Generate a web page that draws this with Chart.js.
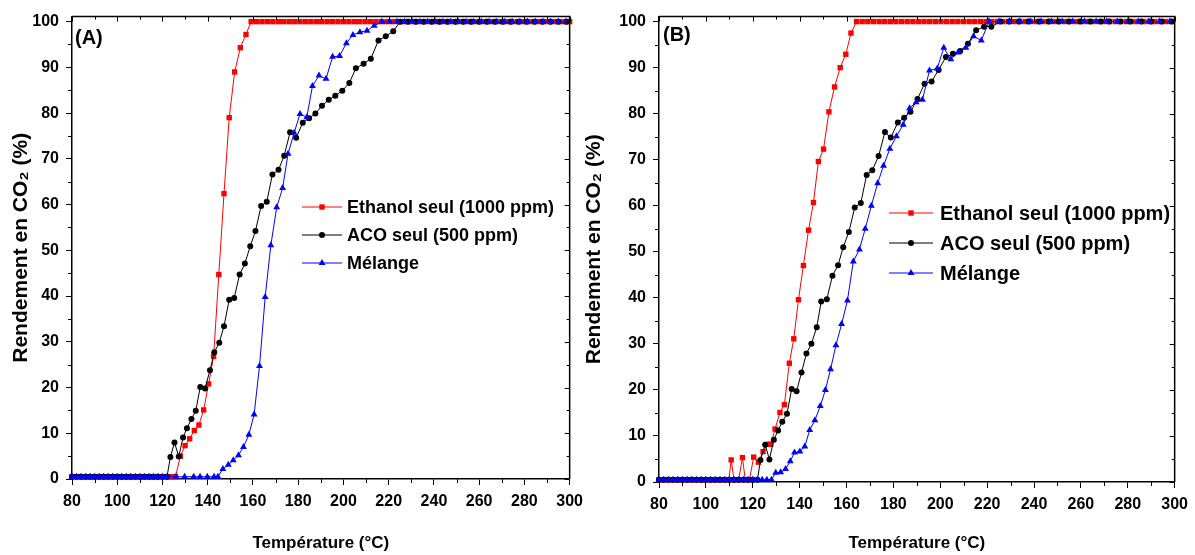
<!DOCTYPE html>
<html><head><meta charset="utf-8">
<script src="https://cdn.jsdelivr.net/npm/chart.js@4.4.1/dist/chart.umd.min.js"></script>
<style>
html,body{margin:0;padding:0;background:#fff;width:1195px;height:555px;overflow:hidden;position:relative;}
canvas{position:absolute;top:0;}
#ca{left:0;}
#cb{left:580px;}
</style></head><body>
<canvas id="ca" width="590" height="555"></canvas>
<canvas id="cb" width="615" height="555"></canvas>
<script>
// ---------- DATA ----------
const xTickValues = [80,100,120,140,160,180,200,220,240,260,280,300];
const xMinorValues = [90,110,130,150,170,190,210,230,250,270,290];
const yTickValues = [0,10,20,30,40,50,60,70,80,90,100];
const yMinorValues = [5,15,25,35,45,55,65,75,85,95];
const seriesNames = ['Ethanol seul (1000 ppm)', 'ACO seul (500 ppm)', 'Mélange'];
const panelLabels = ['(A)', '(B)'];
const xTitle = 'Température (°C)';
const yTitle = 'Rendement en CO₂ (%)';

// Panel A : [temperature °C, CO2 yield %]
const A_ethanol = [[80,0.5],[82,0.5],[84,0.5],[86,0.5],[88,0.5],[90,0.5],[92,0.5],[94,0.5],[96,0.5],[98,0.5],[100,0.5],[102,0.5],[104,0.5],[106,0.5],[108,0.5],[110,0.5],[112,0.5],[114,0.5],[116,0.5],[118,0.5],[120,0.5],[122,0.5],[124,0.5],[125.8,0.5],
[127.9,5.0],[130.0,7.3],[132.0,8.8],[134.1,10.6],[136.1,11.8],[138.2,15.1],[140.4,20.8],[142.6,26.8],[144.9,44.7],[147.2,62.4],[149.5,79.0],[151.9,89.0],[154.4,94.3],[156.9,97.2],[159.2,100],
[161.6,100],[164.0,100],[166.4,100],[168.8,100],[171.2,100],[173.6,100],[176.0,100],[178.4,100],[180.8,100],[183.2,100],[185.6,100],[188.0,100],[190.4,100],[192.8,100],[195.2,100],[197.6,100],[200.0,100],[202.4,100],[204.8,100],[207.2,100],[209.6,100],[212.0,100],[214.4,100],[216.8,100],[219.2,100],[221.6,100],[224.0,100],[226.4,100],[228.8,100],[231.2,100],[233.6,100],[236.0,100],[238.4,100],[240.8,100],[243.2,100],[245.6,100],[248.0,100],[250.4,100],[252.8,100],[255.2,100],[257.6,100],[260.0,100],[262.4,100],[264.8,100],[267.2,100],[269.6,100],[272.0,100],[274.4,100],[276.8,100],[279.2,100],[281.6,100],[284.0,100],[286.4,100],[288.8,100],[291.2,100],[293.6,100],[296.0,100],[298.4,100],[300,100]];

const A_aco = [[80,0.5],[82,0.5],[84,0.5],[86,0.5],[88,0.5],[90,0.5],[92,0.5],[94,0.5],[96,0.5],[98,0.5],[100,0.5],[102,0.5],[104,0.5],[106,0.5],[108,0.5],[110,0.5],[112,0.5],[114,0.5],[116,0.5],[118,0.5],[120,0.5],[122,0.5],
[123.5,4.8],[125.3,8.0],[127.2,4.9],[129.1,9.1],[130.8,11.1],[132.8,13.1],[134.7,14.9],[136.7,20.1],[138.8,19.8],[141.0,23.8],[142.9,27.7],[145.1,29.8],[147.2,33.4],[149.5,39.2],[151.7,39.6],[154.1,44.7],[156.4,47.1],[158.8,50.9],[161.1,54.2],[163.6,59.7],[166.1,60.6],[168.6,66.6],[171.3,67.6],[173.8,70.7],[176.4,75.8],[179.1,74.6],[182.0,77.9],[184.8,78.9],[187.6,79.9],[190.5,81.6],[193.5,82.9],[196.4,83.8],[199.5,84.9],[202.6,86.6],[205.5,89.8],[208.9,90.8],[212.1,91.9],[215.5,95.9],[218.7,96.8],[222.0,97.9],[225.1,100],
[228.5,100],[232,100],[235.5,100],[239,100],[242.5,100],[246,100],[249.5,100],[253,100],[256.5,100],[260,100],[263.5,100],[267,100],[270.5,100],[274,100],[277.5,100],[281,100],[284.5,100],[288,100],[291.5,100],[295,100],[298.5,100]];

const A_melange = [[80,0.5],[82,0.5],[84,0.5],[86,0.5],[88,0.5],[90,0.5],[92,0.5],[94,0.5],[96,0.5],[98,0.5],[100,0.5],[102,0.5],[104,0.5],[106,0.5],[108,0.5],[110,0.5],[112,0.5],[114,0.5],[116,0.5],[118,0.5],[120,0.5],[122,0.5],[125.9,0.5],[129.8,0.5],[133.8,0.5],[136.6,0.5],[139.8,0.5],[142.8,0.5],[144.5,0.5],
[146.7,2.2],[149.1,3.1],[151.3,4.1],[153.6,5.2],[155.8,7.0],[158.2,9.7],[160.5,14.1],[162.9,24.7],[165.4,39.8],[167.9,51.1],[170.5,59.4],[173.1,63.6],[175.5,71.1],[178.2,75.7],[180.8,79.8],[183.8,79.1],[186.3,85.9],[189.2,88.2],[192.3,87.5],[195.2,92.3],[198.3,92.5],[201.3,95.3],[204.2,97.1],[207.3,97.7],[210.4,98.0],[213.6,99.1],[217.0,100],
[220.3,100],[223.6,100],[227,100],[230.4,100],[233.8,100],[237.2,100],[240.6,100],[244,100],[247.4,100],[250.8,100],[254.2,100],[257.6,100],[261,100],[264.4,100],[267.8,100],[271.2,100],[274.6,100],[278,100],[281.4,100],[284.8,100],[288.2,100],[291.6,100],[295,100],[298.4,100]];

// Panel B
const B_ethanol = [[80,0.5],[82,0.5],[84,0.5],[86,0.5],[88,0.5],[90,0.5],[92,0.5],[94,0.5],[96,0.5],[98,0.5],[100,0.5],[102,0.5],[104,0.5],[106,0.5],[108,0.5],[109.8,0.5],[110.8,4.8],[112,0.5],[114,0.5],[115.6,5.3],[116.8,0.5],[118.6,0.5],
[120.4,5.4],[122.4,4.3],[124.4,6.6],[126.5,8.2],[127.7,8.2],[129.5,11.5],[131.6,15.1],[133.5,16.8],[135.6,25.8],[137.5,31.1],[139.5,39.6],[141.6,47.0],[143.8,54.7],[145.9,60.7],[148.0,69.6],[150.2,72.3],[152.5,80.4],[154.9,85.8],[157.3,90.0],[159.7,92.9],[161.9,97.5],[164.3,100],
[166.7,100],[169.1,100],[171.5,100],[173.9,100],[176.3,100],[178.7,100],[181.1,100],[183.5,100],[185.9,100],[188.3,100],[190.7,100],[193.1,100],[195.5,100],[197.9,100],[200.3,100],[202.7,100],[205.1,100],[207.5,100],[209.9,100],[212.3,100],[214.7,100],[217.1,100],[219.5,100],[221.9,100],[224.3,100],[226.7,100],[229.1,100],[231.5,100],[233.9,100],[236.3,100],[238.7,100],[241.1,100],[243.5,100],[245.9,100],[248.3,100],[250.7,100],[253.1,100],[255.5,100],[257.9,100],[260.3,100],[262.7,100],[265.1,100],[267.5,100],[269.9,100],[272.3,100],[274.7,100],[277.1,100],[279.5,100],[281.9,100],[284.3,100],[286.7,100],[289.1,100],[291.5,100],[293.9,100],[296.3,100],[298.7,100]];

const B_aco = [[80,0.5],[82,0.5],[84,0.5],[86,0.5],[88,0.5],[90,0.5],[92,0.5],[94,0.5],[96,0.5],[98,0.5],[100,0.5],[102,0.5],[104,0.5],[106,0.5],[108,0.5],[110,0.5],[112,0.5],[114,0.5],[116,0.5],[118,0.5],[120,0.5],[122,0.5],
[123.3,4.8],[125.3,8.1],[127.1,4.9],[129.0,9.2],[130.8,11.2],[132.6,13.1],[134.6,14.8],[136.6,20.2],[138.7,19.7],[140.8,23.8],[142.9,27.9],[145.0,30.0],[147.3,33.6],[149.2,39.2],[151.6,39.7],[154.0,44.8],[156.4,47.1],[158.6,51.0],[161.0,54.3],[163.5,59.6],[166.1,60.6],[168.6,66.7],[171.0,67.7],[173.7,70.8],[176.4,76.0],[178.9,74.8],[181.9,78.1],[184.6,79.1],[187.3,80.4],[190.3,83.2],[193.3,86.5],[196.3,87.0],[199.3,89.5],[202.4,92.3],[205.4,93.0],[208.5,93.6],[211.8,95.2],[215.3,98.1],[218.7,98.9],[221.8,98.9],
[225.7,100],[229.5,100],[233.6,100],[237.7,100],[242.2,100],[246.3,100],[250.5,100],[254.9,100],[259.7,100],[264.0,100],[268.5,100],[272.1,100],[276.8,100],[281.0,100],[285.8,100],[290.0,100],[294.5,100],[298.7,100]];

const B_melange = [[80,0.5],[82,0.5],[84,0.5],[86,0.5],[88,0.5],[90,0.5],[92,0.5],[94,0.5],[96,0.5],[98,0.5],[100,0.5],[102,0.5],[104,0.5],[106,0.5],[108,0.5],[110,0.5],[112,0.5],[114,0.5],[116,0.5],[118,0.5],[120,0.5],[122,0.5],[124,0.5],[126,0.5],[128,0.5],
[129.8,2.0],[131.9,2.1],[134.0,2.8],[136.0,4.5],[137.8,6.4],[140.1,6.6],[142.2,7.7],[144.3,11.3],[146.5,13.4],[148.8,16.5],[151.0,20.0],[153.2,24.5],[155.5,29.7],[157.9,34.3],[160.4,39.4],[162.9,47.9],[165.5,50.5],[168.0,55.0],[170.6,60.0],[173.3,64.9],[175.8,68.7],[178.5,72.4],[181.3,75.1],[184.2,77.6],[186.9,81.2],[189.7,82.5],[192.4,83.0],[195.4,89.4],[198.7,89.8],[201.5,94.3],[204.5,91.8],[207.6,93.3],[210.9,94.3],[214.2,96.8],[217.5,95.9],[220.8,100],
[225,100],[229.5,100],[234,100],[238.5,100],[243,100],[247.5,100],[252,100],[256.5,100],[261.5,100],[266.5,100],[271,100],[275.5,100],[280,100],[284.5,100],[289,100],[293.5,100],[298,100]];

// ---------- STYLE / LAYOUT ----------
const FONT = "'Liberation Sans', Arial, sans-serif";
Chart.defaults.font.family = FONT;
Chart.defaults.color = '#000';

const seriesStyles = [
  {color: '#FF0000', pointStyle: 'rect', radius: 3.8, order: 3},
  {color: '#000000', pointStyle: 'circle', radius: 3, order: 2},
  {color: '#0000FF', pointStyle: 'triangle', radius: 4, order: 1}
];

function toXY(arr) { return arr.map(p => ({x: p[0], y: p[1]})); }

const framePlugin = {
  id: 'frame',
  afterDraw(chart) {
    const {ctx, chartArea: a, scales: {x, y}} = chart;
    ctx.save();
    ctx.strokeStyle = '#000';
    ctx.lineWidth = 1.5;
    ctx.beginPath();
    ctx.moveTo(a.left, a.top); ctx.lineTo(a.right, a.top); ctx.lineTo(a.right, a.bottom);
    ctx.stroke();
    ctx.lineWidth = 1;
    ctx.beginPath();
    xTickValues.forEach(v => { const p = Math.round(x.getPixelForValue(v)) + 0.5; ctx.moveTo(p, a.top); ctx.lineTo(p, a.top + 5); });
    xMinorValues.forEach(v => { const p = Math.round(x.getPixelForValue(v)) + 0.5;
      ctx.moveTo(p, a.top); ctx.lineTo(p, a.top + 3);
      ctx.moveTo(p, a.bottom); ctx.lineTo(p, a.bottom + 4); });
    yTickValues.forEach(v => { const p = Math.round(y.getPixelForValue(v)) + 0.5; ctx.moveTo(a.right, p); ctx.lineTo(a.right - 5, p); });
    yMinorValues.forEach(v => { const p = Math.round(y.getPixelForValue(v)) + 0.5;
      ctx.moveTo(a.right, p); ctx.lineTo(a.right - 3, p);
      ctx.moveTo(a.left, p); ctx.lineTo(a.left - 4, p); });
    ctx.stroke();
    ctx.restore();
  }
};

const annotPlugin = {
  id: 'annot',
  afterDraw(chart, args, o) {
    const ctx = chart.ctx;
    ctx.save();
    ctx.fillStyle = '#000';
    ctx.textBaseline = 'middle';
    ctx.textAlign = 'left';
    ctx.font = 'bold ' + o.labelSize + 'px ' + FONT;
    ctx.fillText(o.label, o.labelX, o.labelY);
    ctx.font = 'bold ' + o.legendSize + 'px ' + FONT;
    chart.data.datasets.forEach((ds, i) => {
      const yy = o.legendY[i];
      ctx.strokeStyle = ds.borderColor; ctx.lineWidth = 1;
      ctx.beginPath(); ctx.moveTo(o.lineX0, yy); ctx.lineTo(o.lineX1, yy); ctx.stroke();
      ctx.fillStyle = ds.pointBackgroundColor;
      Chart.helpers.drawPoint(ctx, {pointStyle: ds.pointStyle, radius: ds.pointRadius, borderWidth: 0, rotation: 0}, (o.lineX0 + o.lineX1) / 2, yy);
      ctx.fillStyle = '#000';
      ctx.fillText(ds.label, o.textX, yy + 1);
    });
    ctx.restore();
  }
};

function makeChart(canvasId, series, cfg) {
  const datasets = series.map((s, i) => ({
    label: seriesNames[i],
    data: toXY(s),
    borderColor: seriesStyles[i].color,
    backgroundColor: seriesStyles[i].color,
    pointBackgroundColor: seriesStyles[i].color,
    pointBorderColor: seriesStyles[i].color,
    pointBorderWidth: 0,
    pointStyle: seriesStyles[i].pointStyle,
    pointRadius: seriesStyles[i].radius,
    borderWidth: 1,
    tension: 0,
    clip: false,
    order: seriesStyles[i].order
  }));
  return new Chart(document.getElementById(canvasId), {
    type: 'line',
    data: {datasets},
    plugins: [framePlugin, annotPlugin],
    options: {
      responsive: false,
      animation: false,
      devicePixelRatio: 1,
      events: [],
      layout: {padding: {top: cfg.padTop, right: cfg.padRight, left: 0, bottom: 0}},
      plugins: {
        legend: {display: false},
        tooltip: {enabled: false},
        annot: cfg.annot
      },
      scales: {
        x: {
          type: 'linear', min: 80, max: 300,
          afterBuildTicks: s => { s.ticks = xTickValues.map(v => ({value: v})); },
          afterFit: s => { s.height = cfg.xAxisHeight; },
          ticks: {autoSkip: false, maxRotation: 0, padding: 7, color: '#000', font: {size: 16, weight: 'bold', family: FONT}},
          grid: {drawOnChartArea: false, drawTicks: true, tickLength: 6, color: '#000', lineWidth: 1},
          border: {display: true, color: '#000', width: 1.5},
          title: {display: true, text: xTitle, color: '#000', padding: {top: 0, bottom: 1}, font: {size: 17, weight: 'bold', family: FONT}}
        },
        y: {
          type: 'linear', min: 0, max: cfg.yMax,
          afterBuildTicks: s => { s.ticks = yTickValues.map(v => ({value: v})); },
          afterFit: s => { s.width = cfg.yAxisWidth; },
          ticks: {padding: 7, color: '#000', font: {size: 16, weight: 'bold', family: FONT}},
          grid: {drawOnChartArea: false, drawTicks: true, tickLength: 6, color: '#000', lineWidth: 1},
          border: {display: true, color: '#000', width: 1.5},
          title: {display: true, text: yTitle, color: '#000', padding: {top: cfg.yTitlePad, bottom: 0}, font: {size: 21, weight: 'bold', family: FONT}}
        }
      }
    }
  });
}

makeChart('ca', [A_ethanol, A_aco, A_melange], {
  padTop: 15, padRight: 20, xAxisHeight: 76, yAxisWidth: 72, yMax: 101.1, yTitlePad: 9,
  annot: {label: panelLabels[0], labelX: 75, labelY: 38, labelSize: 20, legendSize: 18,
          lineX0: 302, lineX1: 342, textX: 347, legendY: [207, 235, 263]}
});
makeChart('cb', [B_ethanol, B_aco, B_melange], {
  padTop: 15, padRight: 15, xAxisHeight: 73, yAxisWidth: 79, yMax: 101.08, yTitlePad: 2,
  annot: {label: panelLabels[1], labelX: 83, labelY: 35, labelSize: 20, legendSize: 20,
          lineX0: 309, lineX1: 353, textX: 360, legendY: [213, 243, 273]}
});
</script>
</body></html>
